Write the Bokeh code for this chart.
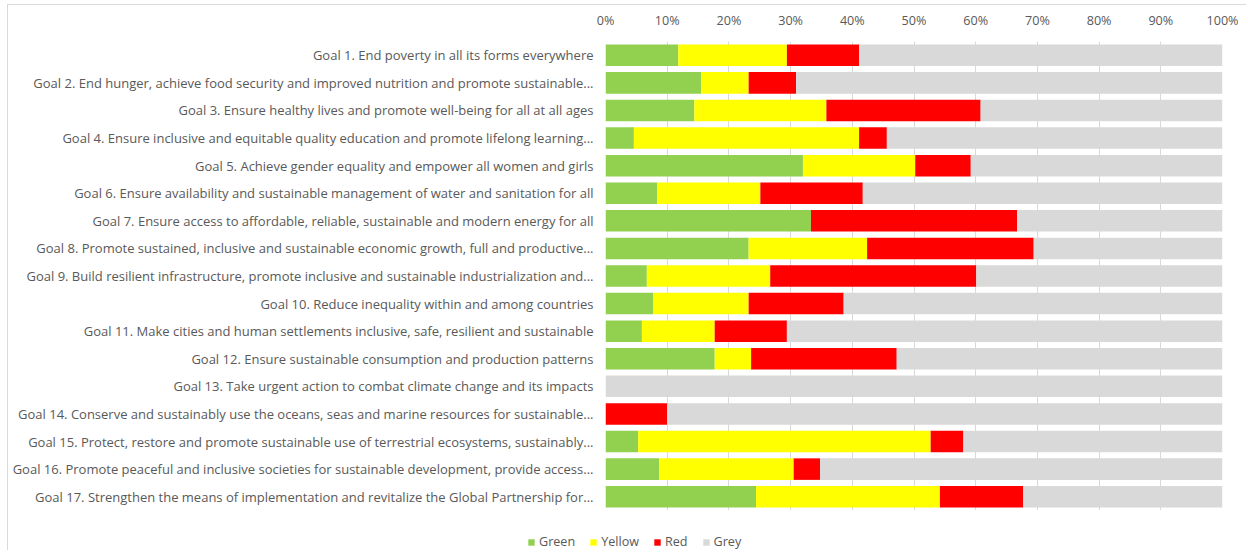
from bokeh.plotting import figure
from bokeh.layouts import column
from bokeh.models import ColumnDataSource, Range1d, FactorRange, NumeralTickFormatter, FixedTicker, Legend, LegendItem
from bokeh.embed import file_html
from bokeh.resources import INLINE

goals = [
    "Goal 1. End poverty in all its forms everywhere",
    "Goal 2. End hunger, achieve food security and improved nutrition and promote sustainable...",
    "Goal 3. Ensure healthy lives and promote well-being for all at all ages",
    "Goal 4. Ensure inclusive and equitable quality education and promote lifelong learning...",
    "Goal 5. Achieve gender equality and empower all women and girls",
    "Goal 6. Ensure availability and sustainable management of water and sanitation for all",
    "Goal 7. Ensure access to affordable, reliable, sustainable and modern energy for all",
    "Goal 8. Promote sustained, inclusive and sustainable economic growth, full and productive...",
    "Goal 9. Build resilient infrastructure, promote inclusive and sustainable industrialization and...",
    "Goal 10. Reduce inequality within and among countries",
    "Goal 11. Make cities and human settlements inclusive, safe, resilient and sustainable",
    "Goal 12. Ensure sustainable consumption and production patterns",
    "Goal 13. Take urgent action to combat climate change and its impacts",
    "Goal 14. Conserve and sustainably use the oceans, seas and marine resources for sustainable...",
    "Goal 15. Protect, restore and promote sustainable use of terrestrial ecosystems, sustainably...",
    "Goal 16. Promote peaceful and inclusive societies for sustainable development, provide access...",
    "Goal 17. Strengthen the means of implementation and revitalize the Global Partnership for...",
]

# percentages per goal
green  = [11.8, 15.5, 14.4,  4.6, 32.0,  8.4, 33.3, 23.2,  6.7,  7.7,  5.9, 17.7, 0.0,  0.0,  5.3,  8.7, 24.4]
yellow = [17.6,  7.7, 21.4, 36.5, 18.2, 16.7,  0.0, 19.2, 20.0, 15.5, 11.8,  5.9, 0.0,  0.0, 47.4, 21.8, 29.8]
red    = [11.7,  7.7, 25.0,  4.5,  9.0, 16.6, 33.4, 27.0, 33.4, 15.4, 11.7, 23.6, 0.0, 10.0,  5.3,  4.3, 13.5]
grey   = [round(100 - g - y - r, 1) for g, y, r in zip(green, yellow, red)]

series = ["Green", "Yellow", "Red", "Grey"]
colors = ["#92d050", "#ffff00", "#ff0000", "#d9d9d9"]

source = ColumnDataSource(dict(
    goal=goals,
    Green=[v / 100 for v in green],
    Yellow=[v / 100 for v in yellow],
    Red=[v / 100 for v in red],
    Grey=[v / 100 for v in grey],
))

FONT = "Open Sans"
TXT = "#595959"
FS = "12.6px"

p = figure(
    y_range=FactorRange(factors=list(reversed(goals))),
    x_range=Range1d(0, 1),
    x_axis_location="above",
    frame_width=617, frame_height=469,
    min_border_left=597, min_border_right=24, min_border_top=36, min_border_bottom=0,
    output_backend="svg", toolbar_location=None,
    background_fill_color="white", border_fill_color="white",
    outline_line_color=None,
)
p.frame_align = False

renderers = p.hbar_stack(series, y="goal", height=0.78, color=colors, source=source, line_color=None)

p.xaxis.ticker = FixedTicker(ticks=[i / 10 for i in range(11)])
p.xaxis.formatter = NumeralTickFormatter(format="0%")
p.xaxis.axis_line_color = None
p.xaxis.major_tick_line_color = None
p.xaxis.minor_tick_line_color = None
p.xaxis.major_tick_out = 0
p.xaxis.minor_tick_out = 0
p.xaxis.major_label_text_font = FONT
p.xaxis.major_label_text_font_size = FS
p.xaxis.major_label_text_color = TXT
p.xaxis.major_label_standoff = 13

p.yaxis.axis_line_color = None
p.yaxis.major_tick_line_color = None
p.yaxis.minor_tick_line_color = None
p.yaxis.major_tick_out = 0
p.yaxis.minor_tick_out = 0
p.yaxis.major_label_text_font = FONT
p.yaxis.major_label_text_font_size = "13px"
p.yaxis.major_label_text_color = TXT
p.yaxis.major_label_standoff = 12

p.xgrid.grid_line_color = "#d9d9d9"
p.ygrid.grid_line_color = None

# strip below the chart holding the legend (its zero-height bars lie outside its view)
pl = figure(
    width=1238, height=40,
    x_range=Range1d(2, 3), y_range=FactorRange(factors=list(reversed(goals))),
    min_border=0, output_backend="svg", toolbar_location=None,
    outline_line_color=None, background_fill_color="white", border_fill_color="white",
)
pl.frame_align = False
pl.axis.visible = False
pl.grid.visible = False
leg_renderers = pl.hbar_stack(series, y="goal", height=0, color=colors, source=source, line_color=None)

legend = Legend(
    items=[LegendItem(label=s, renderers=[r]) for s, r in zip(series, leg_renderers)],
    orientation="horizontal",
    location=(519, 0),
    glyph_width=8, glyph_height=8,
    label_standoff=4, spacing=14,
    padding=0, margin=0,
    label_text_font=FONT, label_text_font_size=FS, label_text_color=TXT,
    border_line_color=None, background_fill_alpha=0,
)
pl.add_layout(legend, "center")

layout = column(p, pl, spacing=0)
layout.styles = {"border-top": "1px solid #d9d9d9", "border-left": "1px solid #d9d9d9",
                 "margin-left": "7px", "margin-top": "4px"}

open("out.html", "w").write(file_html(layout, INLINE))
